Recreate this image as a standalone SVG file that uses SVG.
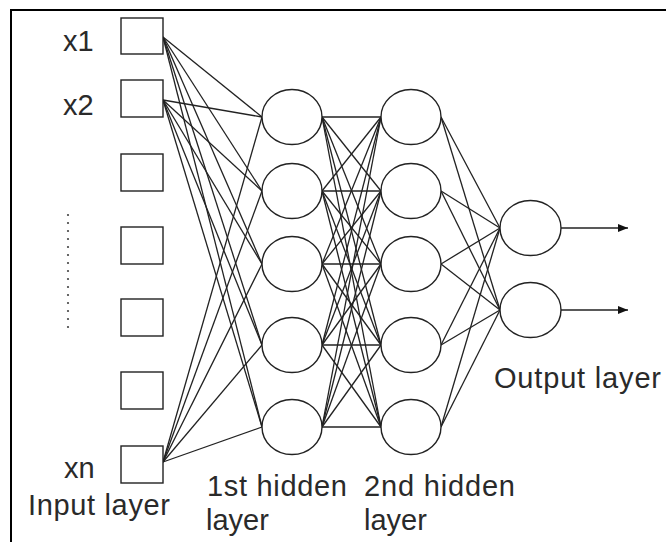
<svg xmlns="http://www.w3.org/2000/svg" width="666" height="542" viewBox="0 0 666 542">
<defs>
<style>
.n{fill:#fff;stroke:#222;stroke-width:1.4}
.c line{stroke:#222;stroke-width:1.3}
text{font-family:"Liberation Sans",Arial,sans-serif;font-size:29px;fill:#2a2a2a}
</style>
<marker id="ah" viewBox="0 0 10 8" refX="10" refY="4" markerWidth="10" markerHeight="8" markerUnits="userSpaceOnUse" orient="auto">
<path d="M0,0 L10,4 L0,8 Z" fill="#111"/>
</marker>
</defs>
<rect width="666" height="542" fill="#fff"/>
<path d="M11,542 V10 H666" fill="none" stroke="#000" stroke-width="2"/>
<g id="dots" fill="#444">
<circle cx="68" cy="215" r="1.1"/><circle cx="68" cy="223" r="1.1"/><circle cx="68" cy="231" r="1.1"/><circle cx="68" cy="239" r="1.1"/><circle cx="68" cy="247" r="1.1"/><circle cx="68" cy="255" r="1.1"/><circle cx="68" cy="263" r="1.1"/><circle cx="68" cy="271" r="1.1"/><circle cx="68" cy="279" r="1.1"/><circle cx="68" cy="287" r="1.1"/><circle cx="68" cy="295" r="1.1"/><circle cx="68" cy="303" r="1.1"/><circle cx="68" cy="311" r="1.1"/><circle cx="68" cy="319" r="1.1"/><circle cx="68" cy="327" r="1.1"/>
</g>
<g id="connectors" class="c">
<line x1="163" y1="37" x2="262" y2="117"/><line x1="163" y1="37" x2="262" y2="191"/><line x1="163" y1="37" x2="262" y2="264"/><line x1="163" y1="37" x2="262" y2="345"/><line x1="163" y1="37" x2="262" y2="427"/>
<line x1="163" y1="100" x2="262" y2="117"/><line x1="163" y1="100" x2="262" y2="191"/><line x1="163" y1="100" x2="262" y2="264"/><line x1="163" y1="100" x2="262" y2="345"/><line x1="163" y1="100" x2="262" y2="427"/>
<line x1="163" y1="462" x2="262" y2="117"/><line x1="163" y1="462" x2="262" y2="191"/><line x1="163" y1="462" x2="262" y2="264"/><line x1="163" y1="462" x2="262" y2="345"/><line x1="163" y1="462" x2="262" y2="427"/>
<line x1="322" y1="117" x2="381" y2="117"/><line x1="322" y1="117" x2="381" y2="191"/><line x1="322" y1="117" x2="381" y2="264"/><line x1="322" y1="117" x2="381" y2="345"/><line x1="322" y1="117" x2="381" y2="427"/>
<line x1="322" y1="191" x2="381" y2="117"/><line x1="322" y1="191" x2="381" y2="191"/><line x1="322" y1="191" x2="381" y2="264"/><line x1="322" y1="191" x2="381" y2="345"/><line x1="322" y1="191" x2="381" y2="427"/>
<line x1="322" y1="264" x2="381" y2="117"/><line x1="322" y1="264" x2="381" y2="191"/><line x1="322" y1="264" x2="381" y2="264"/><line x1="322" y1="264" x2="381" y2="345"/><line x1="322" y1="264" x2="381" y2="427"/>
<line x1="322" y1="345" x2="381" y2="117"/><line x1="322" y1="345" x2="381" y2="191"/><line x1="322" y1="345" x2="381" y2="264"/><line x1="322" y1="345" x2="381" y2="345"/><line x1="322" y1="345" x2="381" y2="427"/>
<line x1="322" y1="427" x2="381" y2="117"/><line x1="322" y1="427" x2="381" y2="191"/><line x1="322" y1="427" x2="381" y2="264"/><line x1="322" y1="427" x2="381" y2="345"/><line x1="322" y1="427" x2="381" y2="427"/>
<line x1="441" y1="117" x2="500" y2="228"/><line x1="441" y1="117" x2="500" y2="310"/>
<line x1="441" y1="191" x2="500" y2="228"/><line x1="441" y1="191" x2="500" y2="310"/>
<line x1="441" y1="264" x2="500" y2="228"/><line x1="441" y1="264" x2="500" y2="310"/>
<line x1="441" y1="345" x2="500" y2="228"/><line x1="441" y1="345" x2="500" y2="310"/>
<line x1="441" y1="427" x2="500" y2="228"/><line x1="441" y1="427" x2="500" y2="310"/>
<line x1="561" y1="228" x2="628" y2="228" marker-end="url(#ah)"/>
<line x1="561" y1="310" x2="628" y2="310" marker-end="url(#ah)"/>
</g>
<g id="in1"><rect class="n" x="121" y="18" width="42" height="36"/></g>
<g id="in2"><rect class="n" x="121" y="80" width="42" height="37"/></g>
<g id="in3"><rect class="n" x="121" y="154" width="42" height="37"/></g>
<g id="in4"><rect class="n" x="121" y="227" width="42" height="37"/></g>
<g id="in5"><rect class="n" x="121" y="299" width="42" height="37"/></g>
<g id="in6"><rect class="n" x="121" y="372" width="42" height="37"/></g>
<g id="inn"><rect class="n" x="121" y="446" width="42" height="37"/></g>
<g id="h1a"><ellipse class="n" cx="292" cy="117" rx="30" ry="27.5"/></g>
<g id="h1b"><ellipse class="n" cx="292" cy="191" rx="30" ry="27.5"/></g>
<g id="h1c"><ellipse class="n" cx="292" cy="264" rx="30" ry="27.5"/></g>
<g id="h1d"><ellipse class="n" cx="292" cy="345" rx="30" ry="27.5"/></g>
<g id="h1e"><ellipse class="n" cx="292" cy="427" rx="30" ry="27.5"/></g>
<g id="h2a"><ellipse class="n" cx="411" cy="117" rx="30" ry="27.5"/></g>
<g id="h2b"><ellipse class="n" cx="411" cy="191" rx="30" ry="27.5"/></g>
<g id="h2c"><ellipse class="n" cx="411" cy="264" rx="30" ry="27.5"/></g>
<g id="h2d"><ellipse class="n" cx="411" cy="345" rx="30" ry="27.5"/></g>
<g id="h2e"><ellipse class="n" cx="411" cy="427" rx="30" ry="27.5"/></g>
<g id="o1"><ellipse class="n" cx="530.5" cy="228" rx="30.5" ry="27.5"/></g>
<g id="o2"><ellipse class="n" cx="530.5" cy="310" rx="30.5" ry="27.5"/></g>
<g id="labels">
<text x="63" y="51">x1</text>
<text x="63" y="115">x2</text>
<text x="64" y="478">xn</text>
<text x="28" y="515" textLength="142" lengthAdjust="spacing">Input layer</text>
<text x="207" y="496" textLength="140" lengthAdjust="spacing">1st hidden</text>
<text x="206" y="530">layer</text>
<text x="364" y="496" textLength="151" lengthAdjust="spacing">2nd hidden</text>
<text x="364" y="530">layer</text>
<text x="494" y="388" textLength="167" lengthAdjust="spacing">Output layer</text>
</g>
</svg>
